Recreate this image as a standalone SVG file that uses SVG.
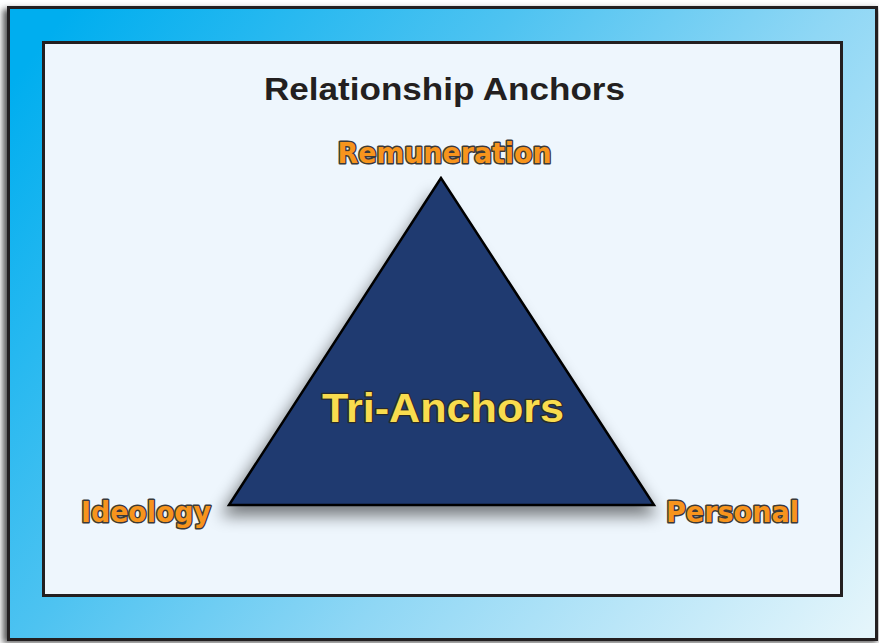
<svg xmlns="http://www.w3.org/2000/svg" width="879" height="643" viewBox="0 0 879 643">
<defs>
<linearGradient id="bg" gradientUnits="userSpaceOnUse" x1="60" y1="20" x2="860" y2="640">
<stop offset="0" stop-color="#00AEEF"/>
<stop offset="0.35" stop-color="#4EC3F1"/>
<stop offset="0.6" stop-color="#8FD7F5"/>
<stop offset="1" stop-color="#E4F5FB"/>
</linearGradient>
<filter id="sh" x="-20%" y="-20%" width="140%" height="140%">
<feGaussianBlur stdDeviation="8"/>
</filter>
<filter id="osh" x="-5%" y="-5%" width="110%" height="110%">
<feGaussianBlur stdDeviation="3"/>
</filter>
<style>
.lbl{font-family:"DejaVu Sans","Liberation Sans",Arial,sans-serif;font-weight:bold;font-size:29px;fill:#F7941D;stroke:#3a3a3a;stroke-width:3;paint-order:stroke;stroke-linejoin:round;text-anchor:middle}
.title{font-family:"Liberation Sans",Arial,sans-serif;font-weight:bold;font-size:32px;fill:#231F20;text-anchor:middle}
.center{font-family:"Liberation Sans",Arial,sans-serif;font-weight:bold;font-size:41px;fill:#F9DC4E;stroke:#2a2a2a;stroke-width:2.5;paint-order:stroke;stroke-linejoin:round;text-anchor:middle}
</style>
</defs>
<rect x="0" y="0" width="879" height="643" fill="#ffffff"/>
<rect x="3" y="9" width="874" height="634" fill="#555" filter="url(#osh)"/>
<g id="frame">
<rect x="8.5" y="7.5" width="868" height="632" fill="url(#bg)" stroke="#231F20" stroke-width="3"/>
<rect x="43.5" y="42.5" width="798" height="553" fill="#EEF6FD" stroke="#231F20" stroke-width="3"/>
</g>
<g id="title"><text class="title" x="444.5" y="100" textLength="361" lengthAdjust="spacingAndGlyphs">Relationship Anchors</text></g>
<g id="triangle">
<polygon points="434,192 220,516 658,516" fill="#000" opacity="0.5" filter="url(#sh)"/>
<polygon points="441,178 229,505 654,505" fill="#1F3A70" stroke="#000" stroke-width="2.5" stroke-linejoin="miter"/>
<text class="center" x="443" y="422" textLength="242" lengthAdjust="spacingAndGlyphs">Tri-Anchors</text>
</g>
<g id="remuneration"><text class="lbl" x="444.5" y="163" textLength="214" lengthAdjust="spacingAndGlyphs">Remuneration</text></g>
<g id="ideology"><text class="lbl" x="146" y="522" textLength="130" lengthAdjust="spacingAndGlyphs">Ideology</text></g>
<g id="personal"><text class="lbl" x="732.5" y="522" textLength="133" lengthAdjust="spacingAndGlyphs">Personal</text></g>
</svg>
